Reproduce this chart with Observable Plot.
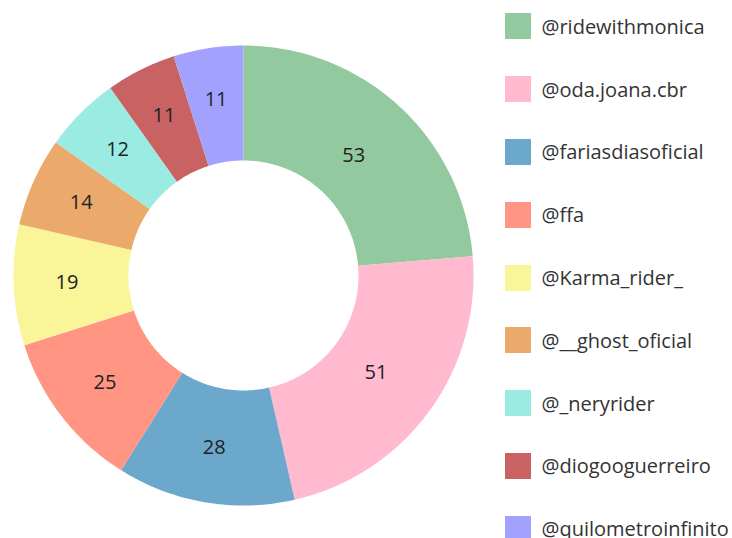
<!DOCTYPE html>
<html>
<head>
<meta charset="utf-8">
<script src="https://cdn.jsdelivr.net/npm/d3@7"></script>
<script src="https://cdn.jsdelivr.net/npm/@observablehq/plot@0.6"></script>
<style>
  html, body { margin: 0; padding: 0; background: #fff; overflow: hidden; }
  #wrap { position: relative; width: 732px; height: 538px; }
  #chart { position: absolute; left: 0; top: 0; }
  #legend { position: absolute; left: 505px; top: 0; font-family: "Open Sans", sans-serif; font-size: 20px; color: #333; }
  .item { position: absolute; left: 0; height: 26px; display: flex; align-items: center; white-space: nowrap; }
  .sw { width: 26px; height: 26px; margin-right: 10.5px; flex: none; }
</style>
</head>
<body>
<div id="wrap">
  <div id="chart"></div>
  <div id="legend"></div>
</div>
<script>
// Accounts and their counts, in clockwise order from 12 o'clock
const names = ["@ridewithmonica", "@oda.joana.cbr", "@fariasdiasoficial", "@ffa", "@Karma_rider_", "@__ghost_oficial", "@_neryrider", "@diogooguerreiro", "@quilometroinfinito"];
const values = [53, 51, 28, 25, 19, 14, 12, 11, 11];
const colors = ["#92c99e", "#ffbacf", "#6ba8cc", "#ff9582", "#f9f598", "#eba96b", "#9aebe2", "#c96262", "#a2a2fe"];

const outer = 1, inner = 0.5;
const arcs = d3.pie().sort(null).value(d => d)(values);

// Ring-segment outlines (unit radius), outer edge then inner edge back
const ring = [];
arcs.forEach((a, i) => {
  const steps = Math.max(8, Math.ceil((a.endAngle - a.startAngle) / 0.02));
  for (let k = 0; k <= steps; k++) {
    const t = a.startAngle + (a.endAngle - a.startAngle) * k / steps;
    ring.push({name: names[i], x: outer * Math.sin(t), y: outer * Math.cos(t)});
  }
  for (let k = steps; k >= 0; k--) {
    const t = a.startAngle + (a.endAngle - a.startAngle) * k / steps;
    ring.push({name: names[i], x: inner * Math.sin(t), y: inner * Math.cos(t)});
  }
});

// Value labels at the area centroid of each ring segment
const labels = arcs.map((a, i) => {
  const t = (a.startAngle + a.endAngle) / 2;
  const h = (a.endAngle - a.startAngle) / 2;
  const rc = (2 / 3) * (outer ** 3 - inner ** 3) / (outer ** 2 - inner ** 2) * Math.sin(h) / h;
  return {name: names[i], value: values[i], x: rc * Math.sin(t), y: rc * Math.cos(t)};
});

const chart = Plot.plot({
  width: 732,
  height: 538,
  margin: 0,
  x: {domain: [-1, 1], range: [13, 473], axis: null},
  y: {domain: [-1, 1], range: [505, 45], axis: null},
  color: {domain: names, range: colors},
  marks: [
    Plot.line(ring, {x: "x", y: "y", z: "name", fill: "name", stroke: null, curve: "linear-closed"}),
    Plot.text(labels, {x: "x", y: "y", text: "value", fill: "#222", fontSize: 20, fontFamily: "Open Sans"})
  ],
  style: {background: "white"}
});
document.getElementById("chart").appendChild(chart);

// Legend column
const scale = chart.scale("color");
const legend = d3.select("#legend");
names.forEach((n, i) => {
  const item = legend.append("div").attr("class", "item").style("top", (13.3 + i * 62.8) + "px");
  item.append("div").attr("class", "sw").style("background", scale.apply(n));
  item.append("span").text(n);
});
</script>
</body>
</html>
